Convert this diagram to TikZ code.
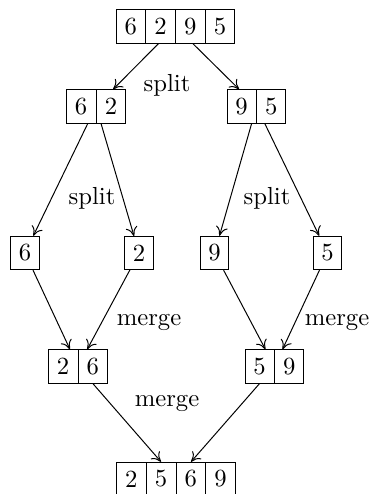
\documentclass[tikz,border=0pt]{standalone}
\usetikzlibrary{shapes.multipart, arrows.meta}
\begin{document}
\begin{tikzpicture}[>={Computer Modern Rightarrow[length=1.3mm, width=1.7mm]}, cells/.style={draw, rectangle split, rectangle split horizontal, rectangle split parts=#1}, one/.style={draw, rectangle}]
\useasboundingbox (0,0) rectangle (5.342,-7.037);
\def \rowa{-0.377}
\def \rowb{-1.517}
\def \rowc{-3.604}
\def \rowd{-5.221}
\def \rowe{-6.823}
\node (n6295) at (2.500,\rowa) [cells=4] {6\nodepart{two}2\nodepart{three}9\nodepart{four}5};
\node (n62) at (1.368,\rowb) [cells=2] {6\nodepart{two}2};
\node (n95) at (3.654,\rowb) [cells=2] {9\nodepart{two}5};
\node (n6) at (0.356,\rowc) [one] {6};
\node (n2) at (1.980,\rowc) [one] {2};
\node (n9) at (3.056,\rowc) [one] {9};
\node (n5) at (4.665,\rowc) [one] {5};
\node (n26) at (1.111,\rowd) [cells=2] {2\nodepart{two}6};
\node (n59) at (3.910,\rowd) [cells=2] {5\nodepart{two}9};
\node (n2569) at (2.507,\rowe) [cells=4] {2\nodepart{two}5\nodepart{three}6\nodepart{four}9};
\node (splita) at (2.379,-1.211) {split};
\node (splitb) at (1.311,-2.821) {split};
\node (splitc) at (3.803,-2.821) {split};
\node (mergea) at (2.123,-4.587) {merge};
\node (mergeb) at (4.801,-4.587) {merge};
\node (mergec) at (2.379,-5.741) {merge};
\draw[->] (n6295) -- (n62);
\draw[->] (n6295) -- (n95);
\draw[->] (n62) -- (n6);
\draw[->] (n62) -- (n2);
\draw[->] (n95) -- (n9);
\draw[->] (n95) -- (n5);
\draw[->] (n6) -- (n26);
\draw[->] (n2) -- (n26);
\draw[->] (n9) -- (n59);
\draw[->] (n5) -- (n59);
\draw[->] (n26) -- (n2569);
\draw[->] (n59) -- (n2569);
\end{tikzpicture}
\end{document}
